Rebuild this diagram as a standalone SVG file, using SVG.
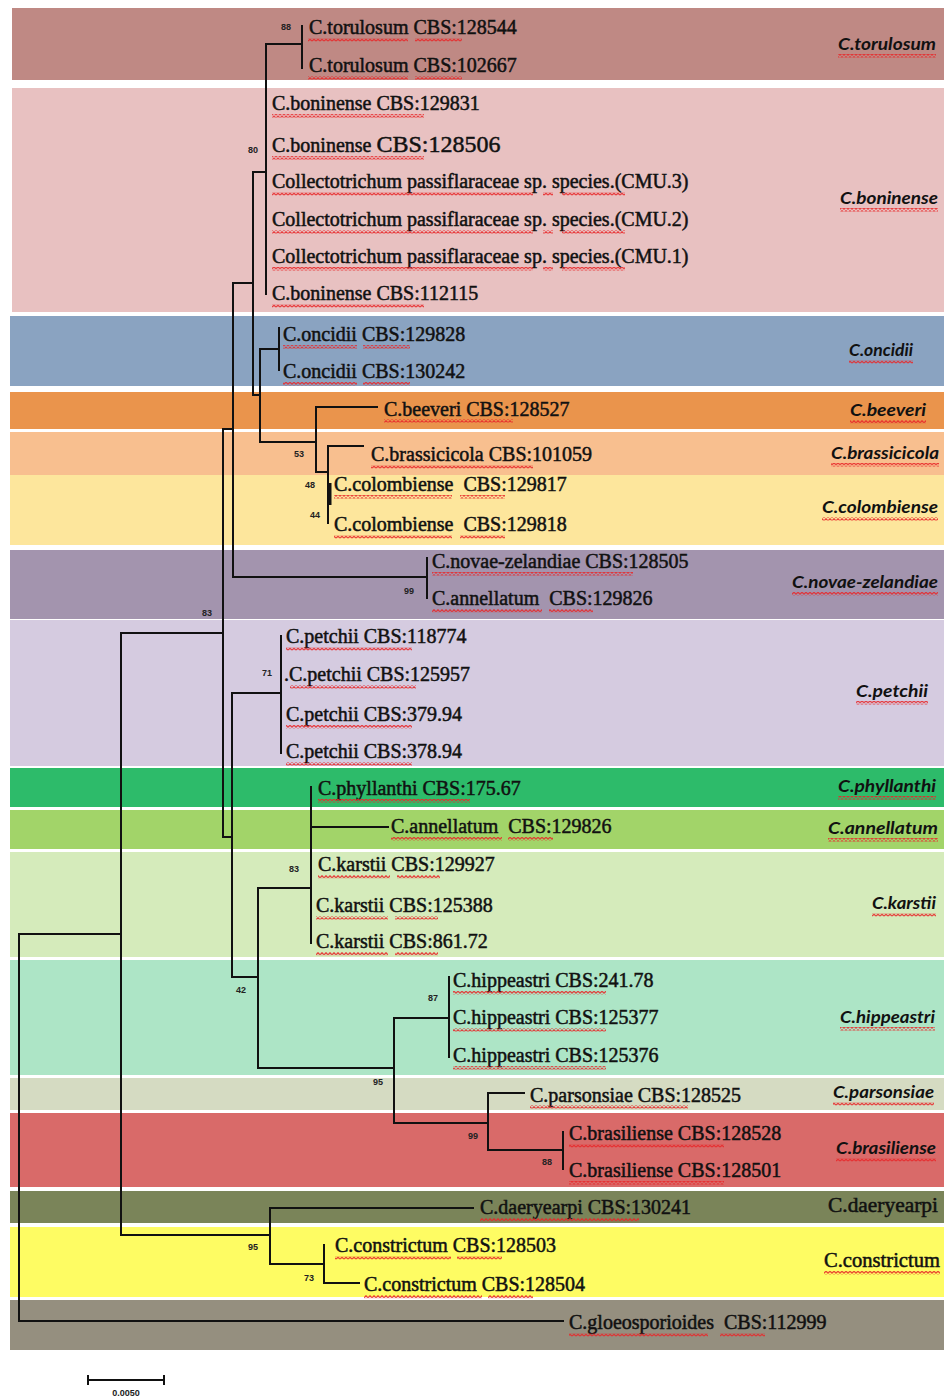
<svg xmlns="http://www.w3.org/2000/svg" width="944" height="1398" viewBox="0 0 944 1398">
<style>
.t{font-family:"Liberation Serif","Times New Roman",serif;font-size:20px;fill:#111;stroke:#111;stroke-width:0.5}
.r{font-family:Lato,"Liberation Sans",sans-serif;font-style:italic;font-weight:bold;font-size:17px;fill:#111}
.rs{font-family:"Liberation Serif","Times New Roman",serif;font-size:20px;fill:#111;stroke:#111;stroke-width:0.5}
.b{font-family:"Liberation Sans",Arial,sans-serif;font-weight:bold;font-size:9px;fill:#222;text-anchor:middle}
.sq{fill:url(#sq)}
.ln{fill:none;stroke:#111;stroke-width:2;stroke-linecap:square}
</style>
<defs>
<pattern id="sq" patternUnits="userSpaceOnUse" width="4" height="3.5">
<path d="M0 2.8 L2 0.7 L4 2.8" fill="none" stroke="#e8282a" stroke-width="1.1"/>
</pattern>
</defs>
<rect width="944" height="1398" fill="#fff"/>

<g id="torulosum">
<rect x="12" y="8" width="932" height="72" fill="#bf8984"/>
<text class="t" x="309" y="34">C.torulosum CBS:128544</text>
<text class="t" x="309" y="72">C.torulosum CBS:102667</text>
<rect class="sq" x="308" y="38" width="100" height="3.5"/><rect class="sq" x="415" y="38" width="47" height="3.5"/>
<rect class="sq" x="308" y="76" width="100" height="3.5"/><rect class="sq" x="415" y="76" width="47" height="3.5"/>
<text class="r" x="838" y="50" textLength="98" lengthAdjust="spacingAndGlyphs">C.torulosum</text>
<rect class="sq" x="838" y="54" width="98" height="3.5"/>
</g>

<g id="boninense">
<rect x="12" y="88" width="932" height="224" fill="#e8c1c1"/>
<text class="t" x="272" y="110">C.boninense CBS:129831</text>
<text class="t" x="272" y="152">C.boninense <tspan font-size="24">CBS:128506</tspan></text>
<text class="t" x="272" y="188">Collectotrichum passiflaraceae sp. species.(CMU.3)</text>
<text class="t" x="272" y="226">Collectotrichum passiflaraceae sp. species.(CMU.2)</text>
<text class="t" x="272" y="263">Collectotrichum passiflaraceae sp. species.(CMU.1)</text>
<text class="t" x="272" y="300">C.boninense CBS:112115</text>
<rect class="sq" x="272" y="114" width="152" height="3.5"/>
<rect class="sq" x="272" y="156" width="152" height="3.5"/>
<rect class="sq" x="272" y="192" width="261" height="3.5"/><rect class="sq" x="543" y="192" width="10" height="3.5"/><rect class="sq" x="562" y="192" width="63" height="3.5"/>
<rect class="sq" x="272" y="230" width="261" height="3.5"/><rect class="sq" x="543" y="230" width="10" height="3.5"/><rect class="sq" x="562" y="230" width="63" height="3.5"/>
<rect class="sq" x="272" y="267" width="261" height="3.5"/><rect class="sq" x="543" y="267" width="10" height="3.5"/><rect class="sq" x="562" y="267" width="63" height="3.5"/>
<rect class="sq" x="272" y="304" width="152" height="3.5"/>
<text class="r" x="840" y="204" textLength="98" lengthAdjust="spacingAndGlyphs">C.boninense</text>
<rect class="sq" x="840" y="208" width="98" height="3.5"/>
</g>

<g id="oncidii">
<rect x="10" y="316" width="934" height="70" fill="#8aa3c1"/>
<text class="t" x="283" y="341">C.oncidii CBS:129828</text>
<text class="t" x="283" y="378">C.oncidii CBS:130242</text>
<rect class="sq" x="283" y="345" width="74" height="3.5"/><rect class="sq" x="363" y="345" width="47" height="3.5"/>
<rect class="sq" x="283" y="382" width="74" height="3.5"/><rect class="sq" x="363" y="382" width="47" height="3.5"/>
<text class="r" x="849" y="356" textLength="64" lengthAdjust="spacingAndGlyphs">C.oncidii</text>
<rect class="sq" x="849" y="360" width="64" height="3.5"/>
</g>

<g id="beeveri">
<rect x="10" y="392" width="934" height="37" fill="#ea944c"/>
<text class="t" x="384" y="416">C.beeveri CBS:128527</text>
<rect class="sq" x="384" y="419" width="129" height="3.5"/>
<text class="r" x="850" y="416" textLength="76" lengthAdjust="spacingAndGlyphs">C.beeveri</text>
<rect class="sq" x="850" y="420" width="76" height="3.5"/>
</g>

<g id="brassicicola">
<rect x="10" y="432" width="934" height="43" fill="#f8bf8f"/>
<text class="t" x="371" y="461">C.brassicicola CBS:101059</text>
<rect class="sq" x="371" y="465" width="162" height="3.5"/>
<text class="r" x="831" y="459" textLength="108" lengthAdjust="spacingAndGlyphs">C.brassicicola</text>
<rect class="sq" x="831" y="463" width="108" height="3.5"/>
</g>

<g id="colombiense">
<rect x="10" y="475" width="934" height="70" fill="#fde69c"/>
<text class="t" x="334" y="491" xml:space="preserve">C.colombiense  CBS:129817</text>
<text class="t" x="334" y="531" xml:space="preserve">C.colombiense  CBS:129818</text>
<rect class="sq" x="334" y="495" width="118" height="3.5"/><rect class="sq" x="460" y="495" width="45" height="3.5"/>
<rect class="sq" x="334" y="535" width="118" height="3.5"/><rect class="sq" x="460" y="535" width="45" height="3.5"/>
<text class="r" x="822" y="513" textLength="116" lengthAdjust="spacingAndGlyphs">C.colombiense</text>
<rect class="sq" x="822" y="517" width="116" height="3.5"/>
</g>

<g id="novae-zelandiae">
<rect x="10" y="550" width="934" height="69" fill="#a394ae"/>
<text class="t" x="432" y="568">C.novae-zelandiae CBS:128505</text>
<text class="t" x="432" y="605" xml:space="preserve">C.annellatum  CBS:129826</text>
<rect class="sq" x="432" y="572" width="201" height="3.5"/>
<rect class="sq" x="432" y="609" width="110" height="3.5"/><rect class="sq" x="549" y="609" width="44" height="3.5"/>
<text class="r" x="792" y="588" textLength="146" lengthAdjust="spacingAndGlyphs">C.novae-zelandiae</text>
<rect class="sq" x="792" y="592" width="146" height="3.5"/>
</g>

<g id="petchii">
<rect x="10" y="620" width="934" height="146" fill="#d5cbe0"/>
<text class="t" x="286" y="643">C.petchii CBS:118774</text>
<text class="t" x="284" y="681">.C.petchii CBS:125957</text>
<text class="t" x="286" y="721">C.petchii CBS:379.94</text>
<text class="t" x="286" y="758">C.petchii CBS:378.94</text>
<rect class="sq" x="286" y="647" width="126" height="3.5"/>
<rect class="sq" x="290" y="685" width="126" height="3.5"/>
<rect class="sq" x="286" y="725" width="126" height="3.5"/>
<rect class="sq" x="286" y="762" width="126" height="3.5"/>
<text class="r" x="856" y="697" textLength="72" lengthAdjust="spacingAndGlyphs">C.petchii</text>
<rect class="sq" x="856" y="701" width="72" height="3.5"/>
</g>

<g id="phyllanthi">
<rect x="10" y="768" width="934" height="39" fill="#2dbb6a"/>
<text class="t" x="318" y="795">C.phyllanthi CBS:175.67</text>
<rect class="sq" x="318" y="799" width="152" height="3.5"/>
<text class="r" x="838" y="792" textLength="98" lengthAdjust="spacingAndGlyphs">C.phyllanthi</text>
<rect class="sq" x="838" y="796" width="98" height="3.5"/>
</g>

<g id="annellatum">
<rect x="10" y="810" width="934" height="39" fill="#a2d469"/>
<text class="t" x="391" y="833" xml:space="preserve">C.annellatum  CBS:129826</text>
<rect class="sq" x="391" y="837" width="111" height="3.5"/><rect class="sq" x="508" y="837" width="45" height="3.5"/>
<text class="r" x="828" y="834" textLength="110" lengthAdjust="spacingAndGlyphs">C.annellatum</text>
<rect class="sq" x="828" y="838" width="110" height="3.5"/>
</g>

<g id="karstii">
<rect x="10" y="852" width="934" height="105" fill="#d5ebbb"/>
<text class="t" x="318" y="871">C.karstii CBS:129927</text>
<text class="t" x="316" y="912">C.karstii CBS:125388</text>
<text class="t" x="316" y="948">C.karstii CBS:861.72</text>
<rect class="sq" x="318" y="875" width="72" height="3.5"/><rect class="sq" x="397" y="875" width="43" height="3.5"/>
<rect class="sq" x="316" y="916" width="72" height="3.5"/><rect class="sq" x="395" y="916" width="43" height="3.5"/>
<rect class="sq" x="316" y="952" width="72" height="3.5"/><rect class="sq" x="395" y="952" width="43" height="3.5"/>
<text class="r" x="872" y="909" textLength="64" lengthAdjust="spacingAndGlyphs">C.karstii</text>
<rect class="sq" x="872" y="913" width="64" height="3.5"/>
</g>

<g id="hippeastri">
<rect x="10" y="960" width="934" height="115" fill="#ade5c6"/>
<text class="t" x="453" y="987">C.hippeastri CBS:241.78</text>
<text class="t" x="453" y="1024">C.hippeastri CBS:125377</text>
<text class="t" x="453" y="1062">C.hippeastri CBS:125376</text>
<rect class="sq" x="453" y="991" width="153" height="3.5"/>
<rect class="sq" x="453" y="1028" width="153" height="3.5"/>
<rect class="sq" x="453" y="1066" width="153" height="3.5"/>
<text class="r" x="840" y="1023" textLength="95" lengthAdjust="spacingAndGlyphs">C.hippeastri</text>
<rect class="sq" x="840" y="1027" width="95" height="3.5"/>
</g>

<g id="parsonsiae">
<rect x="10" y="1078" width="934" height="32" fill="#d5dbc2"/>
<text class="t" x="530" y="1102">C.parsonsiae CBS:128525</text>
<rect class="sq" x="530" y="1105" width="158" height="3.5"/>
<text class="r" x="833" y="1098" textLength="101" lengthAdjust="spacingAndGlyphs">C.parsonsiae</text>
<rect class="sq" x="833" y="1102" width="101" height="3.5"/>
</g>

<g id="brasiliense">
<rect x="10" y="1113" width="934" height="74" fill="#d96a69"/>
<text class="t" x="569" y="1140">C.brasiliense CBS:128528</text>
<text class="t" x="569" y="1177">C.brasiliense CBS:128501</text>
<rect class="sq" x="569" y="1144" width="155" height="3.5"/>
<rect class="sq" x="569" y="1181" width="155" height="3.5"/>
<text class="r" x="836" y="1154" textLength="100" lengthAdjust="spacingAndGlyphs">C.brasiliense</text>
<rect class="sq" x="836" y="1158" width="100" height="3.5"/>
</g>

<g id="daeryearpi">
<rect x="10" y="1191" width="934" height="32" fill="#7a8459"/>
<text class="t" x="480" y="1214">C.daeryearpi CBS:130241</text>
<rect class="sq" x="480" y="1218" width="159" height="3.5"/>
<text class="rs" x="828" y="1212" textLength="110" lengthAdjust="spacingAndGlyphs">C.daeryearpi</text>
</g>

<g id="constrictum">
<rect x="10" y="1227" width="934" height="70" fill="#fefc63"/>
<text class="t" x="335" y="1252">C.constrictum CBS:128503</text>
<text class="t" x="364" y="1291">C.constrictum CBS:128504</text>
<rect class="sq" x="335" y="1256" width="116" height="3.5"/><rect class="sq" x="457" y="1256" width="45" height="3.5"/>
<rect class="sq" x="364" y="1295" width="118" height="3.5"/><rect class="sq" x="488" y="1295" width="45" height="3.5"/>
<text class="rs" x="824" y="1267" textLength="116" lengthAdjust="spacingAndGlyphs">C.constrictum</text>
<rect class="sq" x="824" y="1271" width="116" height="3.5"/>
</g>

<g id="gloeosporioides">
<rect x="10" y="1300" width="934" height="50" fill="#958f7f"/>
<text class="t" x="569" y="1329" xml:space="preserve">C.gloeosporioides  CBS:112999</text>
<rect class="sq" x="569" y="1333" width="139" height="3.5"/><rect class="sq" x="720" y="1333" width="45" height="3.5"/>
</g>

<g id="connectors">
<path class="ln" d="M302 26 V68 M266 44 H302 M266 44 V294 M253 172 H266 M253 172 V395 H260 M260 349 V442 M260 349 H279 M279 328 V370 M260 442 H316 M316 407 V472 M316 407 H377 M316 472 H328 M328 446 V523 M328 446 H363 M233 283 H253 M233 283 V577 H427 M427 558 V598 M223 429 H233 M223 429 V837 H232 M121 633 H223 M232 693 V977 M232 693 H281 M281 636 V753 M232 977 H258 M258 888 V1068 M258 888 H311 M311 787 V943 M311 827 H388 M258 1068 H394 M394 1018 V1123 M394 1018 H449 M449 977 V1057 M394 1123 H488 M488 1093 V1150 M488 1093 H524 M488 1150 H563 M563 1132 V1169 M121 633 V1235 H270 M270 1208 V1264 M270 1208 H473 M270 1264 H324 M324 1245 V1283 H359 M19 934 H121 M19 934 V1321 H563"/>
<path d="M330 483 V505" stroke="#111" stroke-width="3"/>
</g>

<g id="bootstrap">
<text class="b" x="286" y="30">88</text>
<text class="b" x="253" y="153">80</text>
<text class="b" x="299" y="457">53</text>
<text class="b" x="310" y="488">48</text>
<text class="b" x="315" y="518">44</text>
<text class="b" x="409" y="594">99</text>
<text class="b" x="207" y="616">83</text>
<text class="b" x="267" y="676">71</text>
<text class="b" x="294" y="872">83</text>
<text class="b" x="241" y="993">42</text>
<text class="b" x="433" y="1001">87</text>
<text class="b" x="378" y="1085">95</text>
<text class="b" x="473" y="1139">99</text>
<text class="b" x="547" y="1165">88</text>
<text class="b" x="253" y="1250">95</text>
<text class="b" x="309" y="1281">73</text>
</g>

<g id="scale">
<path d="M88 1380 H164 M88 1375 V1385 M164 1375 V1385" stroke="#111" stroke-width="2" fill="none"/>
<text class="b" x="126" y="1396">0.0050</text>
</g>
</svg>
